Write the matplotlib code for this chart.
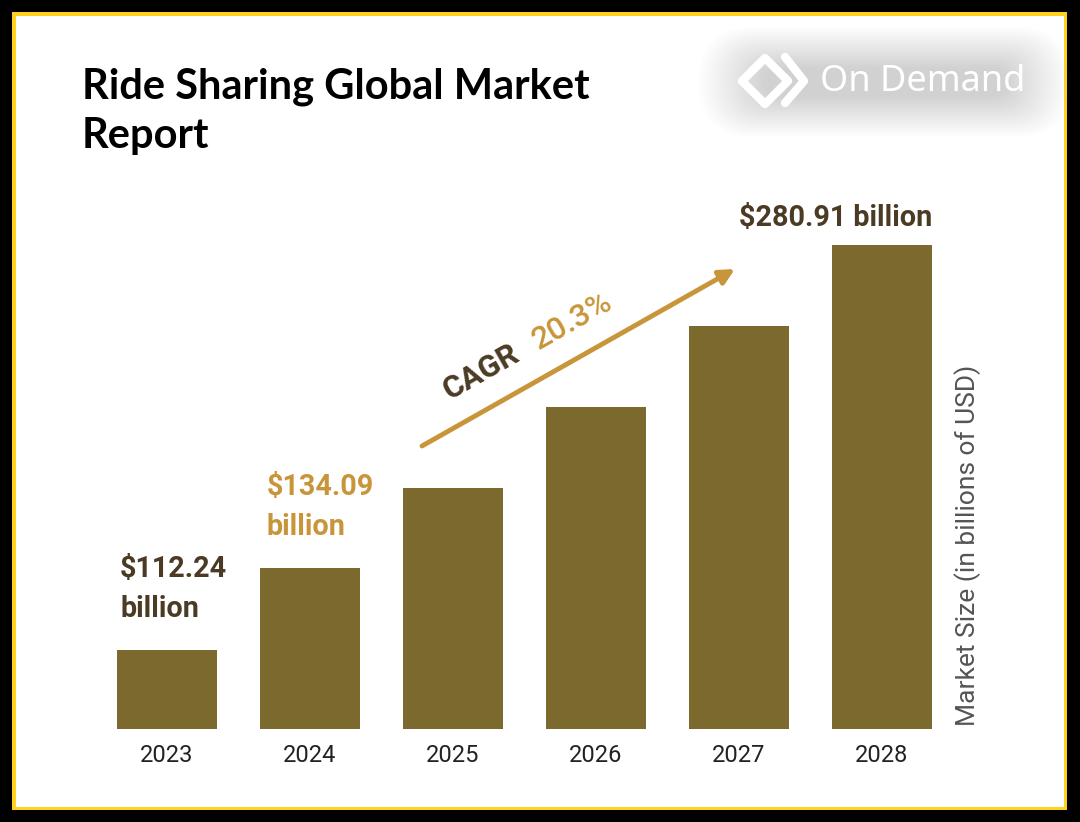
import matplotlib.pyplot as plt
from matplotlib.patches import Rectangle, FancyBboxPatch, Polygon

years = ["2023", "2024", "2025", "2026", "2027", "2028"]
# bar heights as drawn (the chart is stylised, steps are roughly even)
bar_height = [0.98, 2.0, 2.99, 3.99, 5.0, 6.0]
label_text = ["$112.24\nbillion", "$134.09\nbillion", "$280.91 billion"]
cagr = "20.3%"

bar_color = "#7b692d"
gold = "#c9953a"
brown = "#4b3b24"

W, H = 1080, 822
fig = plt.figure(figsize=(W / 100, H / 100), dpi=100)
fig.patch.set_facecolor("black")

# overlay in pixel coords for frame, title, logo, notes
bg = fig.add_axes([0, 0, 1, 1])
bg.set_xlim(0, W)
bg.set_ylim(H, 0)
bg.axis("off")
bg.add_patch(Rectangle((12, 12), 1055, 798, facecolor="#ffd21f", edgecolor="none"))
bg.add_patch(Rectangle((16, 16), 1048, 791, facecolor="white", edgecolor="none"))

# soft shadow behind the logo
for i in range(24):
    pad = 2 + i * 3
    bg.add_patch(FancyBboxPatch((770 - pad, 70 - pad * 0.6), 230 + pad * 2, 24 + pad * 1.2,
                                boxstyle="round,pad=0,rounding_size=%d" % (12 + pad * 0.6),
                                facecolor="#a0a0a0", edgecolor="none", alpha=0.018))
# diamond + chevron icon
bg.add_patch(Polygon([(742, 81), (765, 58), (788, 81), (765, 104)], closed=True,
                     fill=False, edgecolor="white", linewidth=6, joinstyle="round"))
bg.plot([785, 804, 785], [57, 81, 103], color="white", linewidth=6, solid_capstyle="round")
bg.text(820, 82, "On Demand", color="white", fontsize=26, family="Noto Sans",
        va="center", ha="left")

bg.text(82, 67, "Ride Sharing Global Market\nReport", fontsize=30, fontweight="bold",
        family="Lato", color="black", va="top", ha="left", linespacing=1.38)

# bar chart
ax = fig.add_axes([95.5 / W, (H - 729) / H, 858 / W, 529 / H])
ax.set_facecolor("none")
x = list(range(len(years)))
ax.bar(x, bar_height, width=0.7, color=bar_color)
ax.set_xlim(-0.5, 5.5)
ax.set_ylim(0, 529 / 80.67)
ax.set_xticks(x)
ax.set_xticklabels(years, fontsize=17, family="Roboto", color="#222222")
ax.tick_params(axis="x", length=0, pad=11)
ax.set_yticks([])
for s in ax.spines.values():
    s.set_visible(False)

bg.text(120, 589, label_text[0], fontsize=20.7, fontweight="bold", family="Roboto",
        color=brown, va="center", ha="left", linespacing=1.55)
bg.text(267, 507, label_text[1], fontsize=20.7, fontweight="bold", family="Roboto",
        color=gold, va="center", ha="left", linespacing=1.55)
bg.text(836, 218, label_text[2], fontsize=20.7, fontweight="bold", family="Roboto",
        color=brown, va="center", ha="center")

# CAGR arrow
bg.annotate("", xy=(735, 269), xytext=(422, 446),
            arrowprops=dict(arrowstyle="-|>,head_length=0.9,head_width=0.45",
                            color=gold, linewidth=3.5, shrinkA=0, shrinkB=0))
bg.text(481, 372, "CAGR", fontsize=22.5, fontweight="bold", family="Roboto", color=brown,
        rotation=29.5, rotation_mode="anchor", ha="center", va="center")
bg.text(572, 321, cagr, fontsize=23, fontweight="medium", family="Roboto", color=gold,
        rotation=29.5, rotation_mode="anchor", ha="center", va="center")

bg.text(968, 545, "Market Size (in billions of USD)", fontsize=19, family="Roboto",
        color="#555555", rotation=90, ha="center", va="center")

fig.savefig("out.png", dpi=100, facecolor=fig.get_facecolor())
